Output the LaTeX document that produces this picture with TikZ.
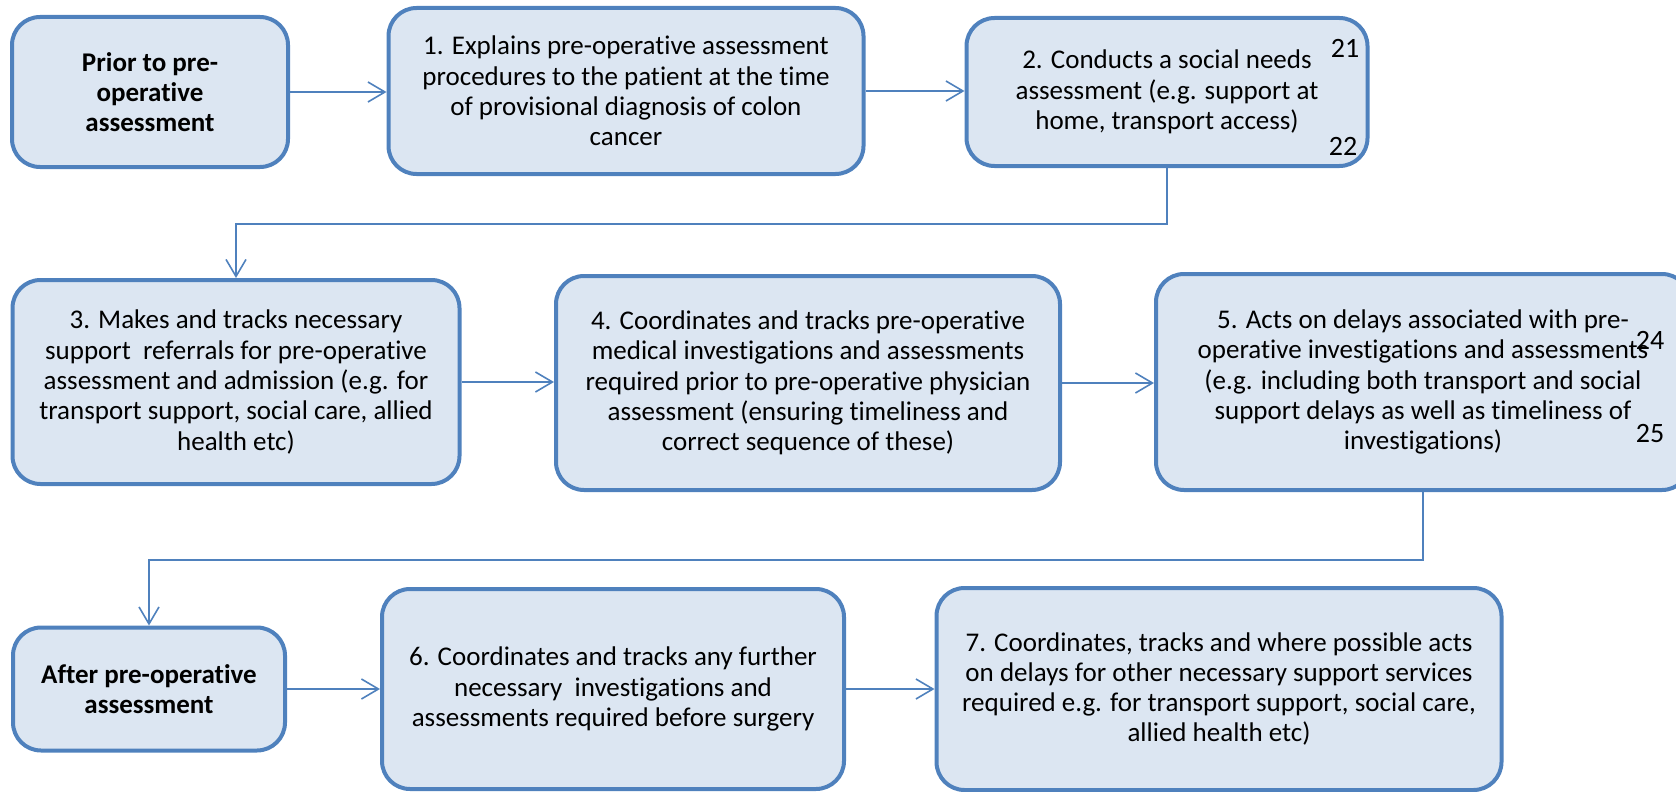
\documentclass[tikz,border=0pt]{standalone}
\usepackage{fontspec}
\setmainfont{Carlito}[Ligatures=NoCommon]
\usetikzlibrary{arrows.meta}

\definecolor{stageline}{HTML}{4F81BD}
\definecolor{stagefill}{HTML}{DCE6F2}

\tikzset{
  stage/.style={draw=stageline, fill=stagefill, line width=4pt, rounded corners=28pt,
    align=center, inner sep=0pt, font=\fontsize{27}{30.3}\selectfont},
  phase/.style={stage, font=\fontsize{27}{30.3}\selectfont\bfseries},
  flow/.style={->, draw=stageline, line width=1.6pt},
  refnum/.style={font=\fontsize{28}{30}\selectfont, inner sep=0pt},
  >={Straight Barb[length=17pt,width=20pt]}
}

\begin{document}
\begin{tikzpicture}[x=1pt, y=-1pt]
    \useasboundingbox (0,0) rectangle (1676,792);

    % Before the assessment
    \node[phase, minimum width=276pt, minimum height=150pt] (prior) at (150,92) {Prior to pre-\\operative\\assessment};
    \node[stage, minimum width=475pt, minimum height=166pt] (explain) at (626,91) {1. Explains pre-operative assessment\\procedures to the patient at the time\\of provisional diagnosis of colon\\cancer};
    \node[stage, minimum width=401pt, minimum height=148pt] (social) at (1167,92) {2. Conducts a social needs\\assessment (e.g. support at\\home, transport access)};

    % Referrals and investigations
    \node[stage, minimum width=447pt, minimum height=204pt] (referral) at (236,382) {3. Makes and tracks necessary\\support\ \ referrals for pre-operative\\assessment and admission (e.g. for\\transport support, social care, allied\\health etc)};
    \node[stage, minimum width=504pt, minimum height=214pt] (investig) at (808,383) {4. Coordinates and tracks pre-operative\\medical investigations and assessments\\required prior to pre-operative physician\\assessment (ensuring timeliness and\\correct sequence of these)};
    \node[stage, minimum width=534pt, minimum height=216pt] (delays) at (1423,382) {5. Acts on delays associated with pre-\\operative investigations and assessments\\(e.g. including both transport and social\\support delays as well as timeliness of\\investigations)};

    % After the assessment
    \node[phase, minimum width=272pt, minimum height=123pt] (after) at (149,689) {After pre-operative\\assessment};
    \node[stage, minimum width=462pt, minimum height=200pt] (further) at (613,689) {6. Coordinates and tracks any further\\necessary\ \ investigations and\\assessments required before surgery};
    \node[stage, minimum width=565pt, minimum height=202pt] (support) at (1219,689) {7. Coordinates, tracks and where possible acts\\on delays for other necessary support services\\required e.g. for transport support, social care,\\allied health etc)};

    % Reference numbers
    \node[refnum] (n21) at (1345,48) {21};
    \node[refnum] (n22) at (1343,146) {22};
    \node[refnum] (n24) at (1650,340) {24};
    \node[refnum] (n25) at (1650,434) {25};

    % Connectors
    \draw[flow] (prior.east) -- (prior.east -| explain.west);
    \draw[flow] (explain.east) -- (explain.east -| social.west);
    \draw[flow] (social.south) -- ++(0,56) -| (referral.north);
    \draw[flow] (referral.east) -- (referral.east -| investig.west);
    \draw[flow] (investig.east) -- (investig.east -| delays.west);
    \draw[flow] (delays.south) -- ++(0,68) -| (after.north);
    \draw[flow] (after.east) -- (after.east -| further.west);
    \draw[flow] (further.east) -- (further.east -| support.west);
\end{tikzpicture}
\end{document}
